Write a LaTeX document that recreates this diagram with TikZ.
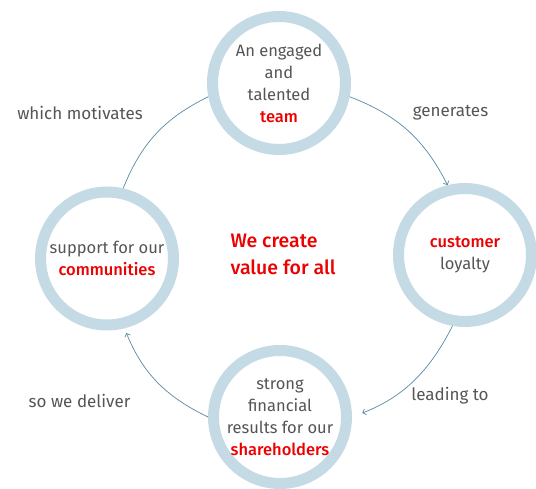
\documentclass[tikz,border=0pt]{standalone}
\usepackage{fontspec}
\setmainfont{Fira Sans}[BoldFont={Fira Sans Medium}]
\usetikzlibrary{arrows.meta}
\definecolor{ringblue}{RGB}{196,218,228}
\definecolor{linkblue}{RGB}{88,138,162}
\definecolor{txtgray}{RGB}{85,85,85}
\definecolor{brandred}{RGB}{236,0,0}
\newcommand\redword[1]{\textcolor{brandred}{\bfseries #1}}
\begin{document}
\begin{tikzpicture}[x=1pt,y=1pt,
  ring/.style={circle, draw=ringblue, line width=11pt, minimum size=133pt,
    inner sep=0pt, fill=white, text=txtgray, align=center,
    font=\fontsize{16.5}{22}\selectfont},
  caption/.style={text=txtgray, font=\fontsize{17}{22}\selectfont},
  link/.style={draw=linkblue, line width=0.7pt, bend left=21},
  tip/.style={-{Straight Barb[length=3pt,width=6pt]}}]
\useasboundingbox (0,0) rectangle (536,489);

% the four stages
\node[ring] (team) at (279,406) {An engaged\\and\\talented\\\redword{team}};
\node[ring] (loyal) at (465,234) {\redword{customer}\\loyalty};
\node[ring] (share) at (280,72) {strong\\financial\\results for our\\\redword{shareholders}};
\node[ring] (comm) at (107,230.5) {support for our\\\redword{communities}};

% central statement
\node[anchor=west, align=left, text=brandred,
  font=\fontsize{19.5}{27}\selectfont\bfseries] (core) at (227,234.5)
  {We create\\value for all};

% cycle connectors
\draw[link, tip] (team.-11) to (loyal.104);
\draw[link, tip, shorten >=11pt] (loyal.260) to (share.0);
\draw[link, tip, shorten >=5pt] (share.180) to (comm.-76);
\draw[link] (comm.77) to (team.191);

% connector captions
\node[caption] (c1) at (450.5,376) {generates};
\node[caption] (c2) at (450,93) {leading to};
\node[caption] (c3) at (79.5,88) {so we deliver};
\node[caption] (c4) at (80,376) {which motivates};
\end{tikzpicture}
\end{document}
